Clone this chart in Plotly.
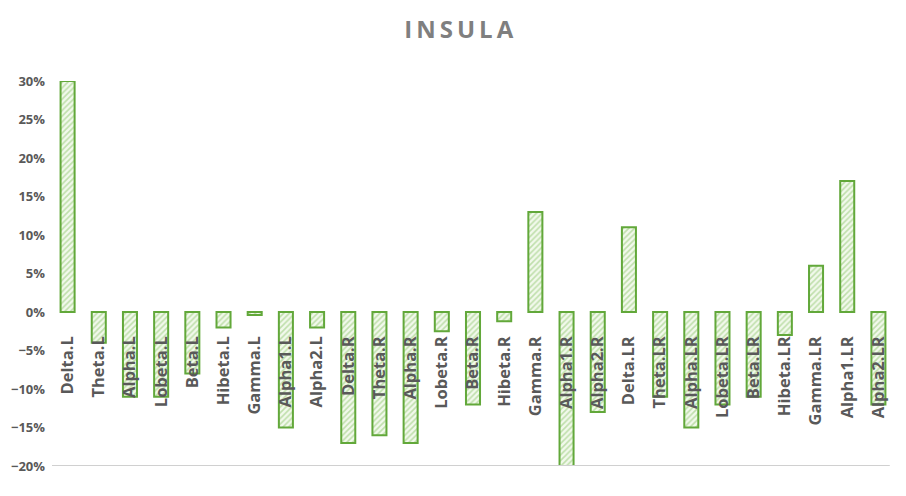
import plotly.graph_objects as go

categories = ["Delta.L", "Theta.L", "Alpha.L", "Lobeta.L", "Beta.L", "Hibeta.L", "Gamma.L",
              "Alpha1.L", "Alpha2.L", "Delta.R", "Theta.R", "Alpha.R", "Lobeta.R", "Beta.R",
              "Hibeta.R", "Gamma.R", "Alpha1.R", "Alpha2.R", "Delta.LR", "Theta.LR", "Alpha.LR",
              "Lobeta.LR", "Beta.LR", "Hibeta.LR", "Gamma.LR", "Alpha1.LR", "Alpha2.LR"]
values = [0.30, -0.04, -0.11, -0.11, -0.08, -0.02, -0.004,
          -0.15, -0.02, -0.17, -0.16, -0.17, -0.025, -0.12,
          -0.012, 0.13, -0.20, -0.13, 0.11, -0.11, -0.15,
          -0.12, -0.11, -0.03, 0.06, 0.17, -0.12]
y_ticks = [-0.20, -0.15, -0.10, -0.05, 0.0, 0.05, 0.10, 0.15, 0.20, 0.25, 0.30]
y_min, y_max = -0.20, 0.30

font_family = "Open Sans, Liberation Sans, sans-serif"
label_color = "#595959"

fig = go.Figure()
fig.add_trace(go.Bar(
    x=categories, y=values,
    marker=dict(
        color="#FFFFFF",
        line=dict(color="#62A83A", width=2),
        pattern=dict(shape="/", fgcolor="#8CC56A", bgcolor="#F2F9EC", size=4, solidity=0.4),
    ),
    width=0.45,
    hoverinfo="x+y",
))

zero_pos = (0 - y_min) / (y_max - y_min)

fig.update_layout(
    width=898, height=488,
    margin=dict(l=44, r=12, t=73, b=30),
    paper_bgcolor="white", plot_bgcolor="white",
    showlegend=False,
    title=dict(text="I\u2009N\u2009S\u2009U\u2009L\u2009A", x=0.502, xanchor="center", y=0.955, yanchor="middle",
               font=dict(family=font_family, size=24, color="#7F7F7F", weight="bold")),
    xaxis=dict(
        type="category", anchor="free", position=zero_pos, automargin=False,
        showline=False, showgrid=False, zeroline=False, ticks="",
        tickangle=-90, ticklabelstandoff=20,
        tickfont=dict(family=font_family, size=16.5, color=label_color, weight="bold"),
    ),
    yaxis=dict(
        range=[y_min, y_max], tickvals=y_ticks, tickformat=".0%", automargin=False,
        showgrid=False, zeroline=False, showline=False, ticks="",
        ticklabelstandoff=6,
        tickfont=dict(family=font_family, size=13, color=label_color, weight="bold"),
    ),
    shapes=[dict(type="line", xref="paper", yref="y", x0=0, x1=0.995, y0=y_min, y1=y_min,
                 line=dict(color="#D0D0D0", width=2))],
)

fig.write_html("out.html")
